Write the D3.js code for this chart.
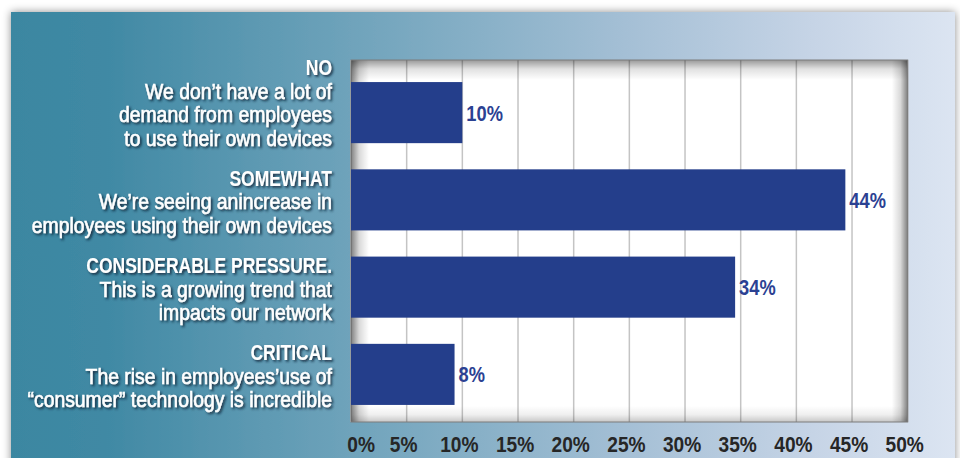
<!DOCTYPE html>
<html>
<head>
<meta charset="utf-8">
<script src="https://cdn.jsdelivr.net/npm/d3@7/dist/d3.min.js"></script>
<style>
  html, body { margin: 0; padding: 0; background: #ffffff; }
  svg { display: block; }
</style>
</head>
<body>
<script>
// ---- data ----
const categories = ["NO", "SOMEWHAT", "CONSIDERABLE PRESSURE.", "CRITICAL"];
const descriptions = [
  ["We don’t have a lot of", "demand from employees", "to use their own devices"],
  ["We’re seeing anincrease in", "employees using their own devices"],
  ["This is a growing trend that", "impacts our network"],
  ["The rise in employees’use of", "“consumer” technology is incredible"]
];
const values = [10, 44.4, 34.5, 9.3];           // bar lengths as drawn (%)
const valueLabels = ["10%", "44%", "34%", "8%"];  // printed labels
const tickValues = [0, 5, 10, 15, 20, 25, 30, 35, 40, 45, 50];

// ---- layout ----
const W = 960, H = 458;
const FONT = "'Liberation Sans', Arial, Helvetica, sans-serif";
const plot = { left: 351, top: 60, right: 907.7, bottom: 422 };

const svg = d3.select("body").append("svg").attr("width", W).attr("height", H);
const defs = svg.append("defs");

// panel gradient
const pg = defs.append("linearGradient").attr("id", "panelGrad").attr("x1", 0).attr("x2", 1).attr("y1", 0).attr("y2", 0);
[[0, "#3b87a1"], [0.1, "#4089a4"], [0.35, "#6da2ba"], [0.65, "#a4bfd5"], [0.85, "#c6d4e6"], [1, "#dce5f2"]]
  .forEach(([o, c]) => pg.append("stop").attr("offset", o).attr("stop-color", c));

// panel drop shadow
const fs = defs.append("filter").attr("id", "panelShadow").attr("x", "-5%").attr("y", "-10%").attr("width", "110%").attr("height", "120%");
fs.append("feDropShadow").attr("dx", 0).attr("dy", 0).attr("stdDeviation", 4.5)
  .attr("flood-color", "#000").attr("flood-opacity", 0.45);

// text shadow
const tsf = defs.append("filter").attr("id", "textShadow").attr("x", "-10%").attr("y", "-10%").attr("width", "120%").attr("height", "120%");
tsf.append("feDropShadow").attr("dx", 1.7).attr("dy", 1.7).attr("stdDeviation", 1.2)
  .attr("flood-color", "#0a2333").attr("flood-opacity", 0.85);

// inset shadow gradients
function grad(id, x1, y1, x2, y2, op) {
  const g = defs.append("linearGradient").attr("id", id)
    .attr("x1", x1).attr("y1", y1).attr("x2", x2).attr("y2", y2);
  g.append("stop").attr("offset", 0).attr("stop-color", "#000").attr("stop-opacity", op);
  g.append("stop").attr("offset", 0.45).attr("stop-color", "#000").attr("stop-opacity", op * 0.3);
  g.append("stop").attr("offset", 1).attr("stop-color", "#000").attr("stop-opacity", 0);
}
grad("shL", 0, 0, 1, 0, 0.5);
grad("shT", 0, 0, 0, 1, 0.4);
grad("shR", 1, 0, 0, 0, 0.5);
grad("shB", 0, 1, 0, 0, 0.22);

// panel
svg.append("rect").attr("x", 11).attr("y", 12).attr("width", 944).attr("height", 470)
  .attr("fill", "url(#panelGrad)").attr("filter", "url(#panelShadow)");

// scales
const x = d3.scaleLinear().domain([0, 50]).range([plot.left, plot.right]);
const y = d3.scaleBand().domain(categories).range([62, 425]).paddingInner(0.3).paddingOuter(0.23);

// plot background
svg.append("rect").attr("x", plot.left).attr("y", plot.top)
  .attr("width", plot.right - plot.left).attr("height", plot.bottom - plot.top)
  .attr("fill", "#ffffff");

// gridlines
svg.append("g").selectAll("line").data(tickValues).join("line")
  .attr("x1", d => x(d)).attr("x2", d => x(d))
  .attr("y1", plot.top).attr("y2", plot.bottom)
  .attr("stroke", "#c4c4c4").attr("stroke-width", 1.5);

// inset shadows
const pw = plot.right - plot.left, ph = plot.bottom - plot.top;
svg.append("rect").attr("x", plot.left).attr("y", plot.top).attr("width", 18).attr("height", ph).attr("fill", "url(#shL)");
svg.append("rect").attr("x", plot.left).attr("y", plot.top).attr("width", pw).attr("height", 20).attr("fill", "url(#shT)");
svg.append("rect").attr("x", plot.right - 16).attr("y", plot.top).attr("width", 16).attr("height", ph).attr("fill", "url(#shR)");
svg.append("rect").attr("x", plot.left).attr("y", plot.bottom - 16).attr("width", pw).attr("height", 16).attr("fill", "url(#shB)");

// border
svg.append("rect").attr("x", plot.left).attr("y", plot.top)
  .attr("width", pw).attr("height", ph)
  .attr("fill", "none").attr("stroke", "#7d7d7d").attr("stroke-width", 1);

// bars
svg.append("g").selectAll("rect").data(categories).join("rect")
  .attr("x", x(0))
  .attr("y", d => y(d))
  .attr("width", (d, i) => x(values[i]) - x(0))
  .attr("height", y.bandwidth())
  .attr("fill", "#243e8b");

// value labels (narrowed via horizontal scale)
svg.append("g").selectAll("text").data(categories).join("text")
  .attr("transform", (d, i) => `translate(${x(values[i]) + 4},${y(d) + y.bandwidth() / 2 + 8}) scale(0.83,1)`)
  .attr("font-family", FONT).attr("font-weight", "bold").attr("font-size", 22)
  .attr("fill", "#2b4192")
  .text((d, i) => valueLabels[i]);

// category labels
const lineH = 23.5;
const lab = svg.append("g").attr("filter", "url(#textShadow)");
categories.forEach((c, i) => {
  const lines = [c].concat(descriptions[i]);
  const lastBase = y(c) + y.bandwidth() + 2.5;
  lines.forEach((ln, j) => {
    const isTitle = j === 0;
    const t = lab.append("text")
      .attr("transform", `translate(332,${lastBase - (lines.length - 1 - j) * lineH}) scale(${isTitle ? 0.795 : 0.88},1)`)
      .attr("text-anchor", "end")
      .attr("font-family", FONT).attr("font-size", 22).attr("fill", "#ffffff")
      .text(ln);
    if (isTitle) t.attr("font-weight", "bold");
    else t.attr("stroke", "#ffffff").attr("stroke-width", 0.55);
  });
});

// x axis tick labels
const ax = svg.append("g").attr("transform", `translate(0,${433})`)
  .call(d3.axisBottom(x).tickValues(tickValues).tickFormat(d => d + "%").tickSize(0).tickPadding(3));
ax.select(".domain").remove();
ax.selectAll("text")
  .attr("font-family", FONT).attr("font-size", 22).attr("font-weight", "bold")
  .attr("fill", "#262626")
  .attr("transform", "scale(0.87,1)")
  .attr("dx", d => d === 0 ? 11 : -4);
</script>
</body>
</html>
